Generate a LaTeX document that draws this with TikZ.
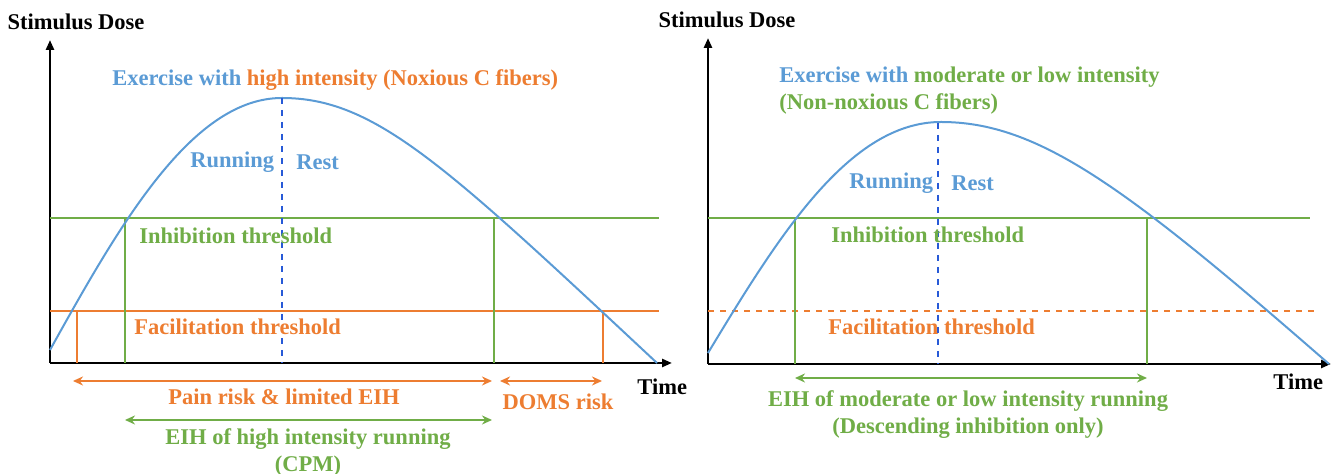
\documentclass[tikz,border=0pt]{standalone}
\usepackage{fontspec}
\setmainfont{Liberation Serif}
\usetikzlibrary{arrows.meta}
\definecolor{doseblue}  {RGB}{ 91, 155, 213}
\definecolor{dashblue}  {RGB}{ 40,  90, 215}
\definecolor{doseorange}{RGB}{237, 125,  49}
\definecolor{dosegreen} {RGB}{112, 173,  71}

\begin{document}
\begin{tikzpicture}[x=0.5pt,y=-0.5pt,
  every node/.style={font=\fontsize{11.25}{13.5}\selectfont\bfseries,inner sep=0pt},
  axis/.style={-{Triangle[length=5pt,width=4pt]},line width=1.3pt},
  curve/.style={doseblue,line width=1pt},
  thr/.style={line width=1pt},
  middash/.style={dashblue,dashed,line width=0.9pt},
  barr/.style={{Stealth[length=5pt,width=4.5pt]}-{Stealth[length=5pt,width=4.5pt]},line width=1pt},
]
\useasboundingbox (0,0) rectangle (1335,474);

%% ── Left panel: high intensity ──────────────────────────────────────────
\coordinate (lo) at (50,363);
\draw[axis] (lo) -- (50,40);
\draw[axis] (lo) -- (672,363);
\node (ly) at (76,22) {Stimulus Dose};
\node[anchor=west] (lt) at (637,387) {Time};

%% thresholds
\draw[thr,dosegreen]  (50,218) -- (659,218);
\draw[thr,doseorange] (50,311) -- (659,311);
\foreach \x in {125,494} \draw[thr,dosegreen] (\x,218) -- (\x,363);
\foreach \x in {77,603}  \draw[thr,doseorange] (\x,311) -- (\x,363);

%% stimulus curve
\coordinate (lpeak) at (282,98);
\draw[curve] (50,350) .. controls (120,224) and (192,98) .. (lpeak)
  .. controls (375,98) and (445,165) .. (657,363);
\draw[middash] (lpeak) -- (282,363);

\node[anchor=west] (ltitle) at (112,80)
  {\textcolor{doseblue}{Exercise with} \textcolor{doseorange}{high intensity (Noxious C fibers)}};
\node[anchor=west,doseblue] (lrun)  at (190,162) {Running};
\node[anchor=west,doseblue] (lrest) at (296,162) {Rest};
\node[anchor=west,dosegreen]  (linh) at (139,236) {Inhibition threshold};
\node[anchor=west,doseorange] (lfac) at (134,327) {Facilitation threshold};

%% ranges below the axis
\coordinate (pa) at (73,381);  \coordinate (pb) at (492,381);
\coordinate (da) at (500,381); \coordinate (db) at (602,381);
\coordinate (ea) at (125,420); \coordinate (eb) at (492,420);
\draw[barr,doseorange] (pa) -- (pb);
\draw[barr,doseorange] (da) -- (db);
\draw[barr,dosegreen]  (ea) -- (eb);
\node[doseorange] (lpain) at (284,397) {Pain risk \& limited EIH};
\node[doseorange] (ldoms) at (558,402) {DOMS risk};
\node[dosegreen,align=center] (leih) at (308,452) {EIH of high intensity running\\(CPM)};

%% ── Right panel: moderate or low intensity ──────────────────────────────
\coordinate (ro) at (708,364);
\draw[axis] (ro) -- (708,38);
\draw[axis] (ro) -- (1331,364);
\node (ry) at (727,20) {Stimulus Dose};
\node[anchor=west] (rt) at (1273,382) {Time};

%% thresholds
\draw[thr,dosegreen] (708,218) -- (1310,218);
\draw[thr,doseorange,dashed,line width=0.8pt] (708,311) -- (1316,311);
\foreach \x in {795,1147} \draw[thr,dosegreen] (\x,218) -- (\x,364);

%% stimulus curve
\coordinate (rpeak) at (941,122);
\draw[curve] (708,353) .. controls (778,237) and (849,122) .. (rpeak)
  .. controls (1038,122) and (1125,186) .. (1329,364);
\draw[middash] (938,123) -- (938,364);

\node[anchor=west,align=left] (rtitle) at (779,91)
  {\textcolor{doseblue}{Exercise with} \textcolor{dosegreen}{moderate or low intensity}\\
   \textcolor{dosegreen}{(Non-noxious C fibers)}};
\node[anchor=west,doseblue] (rrun)  at (849,183) {Running};
\node[anchor=west,doseblue] (rrest) at (951,183) {Rest};
\node[anchor=west,dosegreen]  (rinh) at (831,235) {Inhibition threshold};
\node[anchor=west,doseorange] (rfac) at (828,327) {Facilitation threshold};

%% range below the axis
\coordinate (ma) at (795,378); \coordinate (mb) at (1147,378);
\draw[barr,dosegreen] (ma) -- (mb);
\node[dosegreen,align=center] (reih) at (968,415)
  {EIH of moderate or low intensity running\\(Descending inhibition only)};

\end{tikzpicture}
\end{document}
